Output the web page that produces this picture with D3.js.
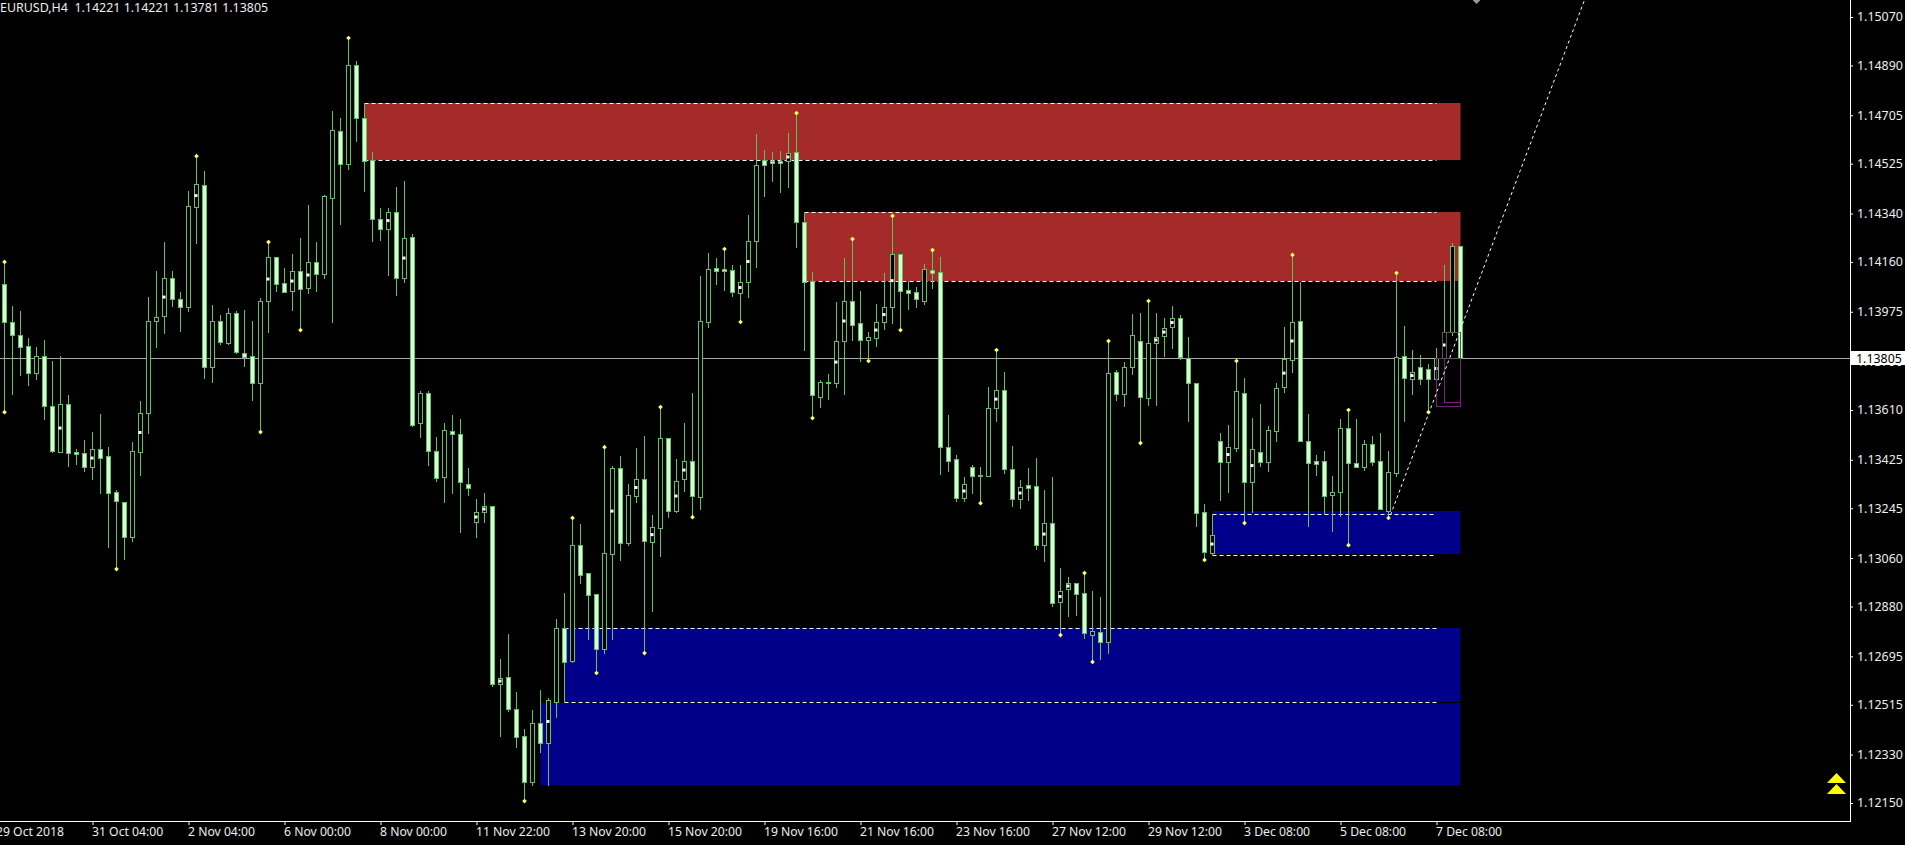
<!DOCTYPE html>
<html><head><meta charset="utf-8">
<script src="https://cdn.jsdelivr.net/npm/d3@7"></script>
<style>html,body{margin:0;padding:0;background:#000;overflow:hidden}svg{display:block}text{font-family:"Noto Sans",sans-serif;white-space:pre}</style>
</head><body><svg id="c" width="1905" height="845"></svg>
<script>
// All prices in points above 1.00000 (14221 = 1.14221)
const opens=[14078,13937,13888,13848,13747,13810,13625,13454,13632,13454,13450,13398,13465,13439,13305,13268,13138,13454,13599,13940,13959,14100,14022,13992,14364,14446,13770,13940,13859,13970,13822,13810,13710,14015,14178,14082,14052,14126,14063,14160,14115,14397,14646,14524,14892,14695,14539,14319,14282,14345,14100,14253,13562,13673,13458,13361,13532,13521,13335,13194,13231,13253,12592,12618,12499,12399,12228,12447,12373,12525,12800,12677,13108,13004,12926,12722,13075,13394,13116,13290,13354,13119,13171,13506,13235,13354,13420,13287,13937,14137,14134,14130,14045,14085,14238,14539,14535,14535,14535,14568,14308,14089,13658,13714,13710,13866,14015,13933,13870,13877,13937,13992,14189,14056,14048,14015,14130,14123,13472,13428,13283,13398,13368,13365,13617,13684,13391,13279,13331,13328,13108,13190,12897,12945,12967,12930,12774,12785,12748,13751,13669,13770,13866,13654,13859,13885,13918,13952,13803,13710,13231,13079,13495,13417,13469,13673,13342,13454,13417,13532,13695,13796,13940,13495,13420,13420,13294,13305,13543,13413,13398,13484,13420,13235,13376,13810,13725,13770,13762,13725,13803,13900,14221];
const highs=[14160,13996,13978,13877,13844,13870,13792,13810,13666,13465,13498,13528,13595,13472,13313,13268,13491,13643,14030,14126,14234,14126,14048,14423,14553,14498,14000,13963,13989,13978,13981,13940,14026,14234,14178,14137,14189,14249,14371,14234,14409,14721,14695,14992,14906,14750,14568,14360,14360,14438,14461,14264,13680,13680,13510,13562,13591,13576,13394,13279,13302,13253,12685,12778,12562,12425,12495,12570,12540,12833,12930,13209,13186,13004,12926,13472,13402,13439,13335,13469,13513,13220,13621,13506,13428,13562,13673,14108,14193,14175,14208,14149,14149,14334,14635,14576,14568,14572,14639,14713,14345,14123,13721,13744,14011,14175,14245,14052,13900,14004,14119,14331,14189,14089,14067,14152,14204,14178,13591,13443,13361,13406,13398,13695,13833,13751,13476,13350,13394,13432,13313,13361,13023,12989,12967,13004,12937,12915,13866,13758,13788,13966,13970,14015,13970,13952,13996,13963,13881,13710,13261,13223,13524,13554,13792,13729,13580,13632,13550,13710,13918,14186,14085,13595,13443,13458,13365,13576,13610,13576,13498,13513,13524,13458,14119,13922,13833,13814,13781,13840,14149,14230,14221];
const lows=[13602,13666,13736,13699,13721,13573,13450,13450,13398,13406,13380,13350,13298,13097,13019,13053,13119,13365,13521,13840,13892,13992,13900,13974,14227,13725,13710,13851,13851,13818,13770,13643,13528,13896,14048,14045,13978,13907,14041,14048,14097,13933,14297,14501,14605,14420,14234,14238,14108,14033,14082,13547,13506,13402,13342,13264,13298,13153,13290,13134,13190,12581,12395,12488,12354,12157,12213,12336,12213,12466,12521,12670,12963,12755,12633,12703,12755,13049,13105,13264,12707,12859,13064,13209,13227,13305,13212,13238,13914,14074,14052,14030,13937,14026,14137,14401,14457,14416,14435,14212,13829,13580,13617,13647,13692,13666,13866,13788,13792,13844,13907,13929,13907,13981,13989,14000,14059,13368,13380,13268,13268,13298,13264,13361,13565,13372,13249,13242,13272,13090,13045,12878,12774,12841,12845,12759,12674,12681,12703,13643,13621,13740,13487,13625,13625,13807,13836,13796,13565,13175,13053,13071,13272,13302,13454,13190,13227,13398,13380,13491,13673,13747,13495,13175,13365,13220,13157,13212,13108,13394,13383,13402,13238,13209,13361,13565,13666,13703,13602,13721,13796,13885,13781];
const closes=[13937,13888,13844,13747,13810,13625,13458,13632,13450,13446,13398,13465,13432,13302,13272,13138,13458,13599,13940,13955,14100,14022,13992,14368,14449,13770,13940,13862,13970,13825,13807,13710,14015,14178,14078,14048,14126,14059,14160,14115,14405,14650,14524,14892,14695,14535,14319,14282,14345,14100,14249,13554,13673,13458,13357,13536,13521,13342,13320,13231,13253,12592,12614,12499,12395,12228,12447,12373,12533,12800,12674,13108,12997,12923,12722,13079,13394,13116,13294,13354,13123,13175,13506,13235,13346,13420,13290,13940,14134,14126,14126,14048,14085,14238,14520,14520,14527,14527,14565,14308,14085,13666,13714,13710,13866,14015,13926,13870,13881,13937,13992,14189,14052,14045,14022,14134,14119,13472,13420,13283,13335,13365,13365,13617,13684,13391,13279,13324,13320,13108,13190,12893,12937,12967,12926,12781,12789,12748,13747,13669,13770,13888,13658,13859,13881,13914,13952,13807,13710,13227,13082,13145,13417,13472,13680,13342,13465,13417,13536,13692,13799,13937,13495,13413,13409,13290,13305,13543,13413,13398,13484,13417,13242,13380,13807,13729,13751,13725,13725,13803,13900,14219,13805];
// Fractal markers, by candle number
const fractalHigh=[0,24,33,43,71,75,82,90,99,106,111,116,124,135,138,143,154,161,168,174];
const fractalLow=[0,14,32,37,65,74,80,86,92,101,108,112,122,132,136,142,150,155,168,173,178];
// Bull candles carrying a small white centre mark
const centred=[7,11,17,20,24,33,36,38,48,50,59,60,62,68,76,79,81,84,85,92,93,98,104,105,109,110,111,120,124,127,130,132,133,144,145,146,151,153,156,160,161,176,179,180];
// Supply / demand zones
const zoneFrom=[45,100,70,67,151];
const zoneTop=[14750,14345,12800,12522,13235];
const zoneBottom=[14539,14089,12525,12217,13075];
const zoneColor=["#a52a2a","#a52a2a","#00008b","#00008b","#00008b"];
const dashLevels=[[45,14750],[45,14539],[100,14345],[100,14089],[70,12800],[70,12525],[151,13223],[151,13071]];
const priceTicks=[15070,14890,14705,14525,14340,14160,13975,13790,13610,13425,13245,13060,12880,12695,12515,12330,12150];
const timeTickAt=[-1,11,23,35,47,59,71,83,95,107,119,131,143,155,167,179];
const timeLabels=["29 Oct 2018","31 Oct 04:00","2 Nov 04:00","6 Nov 00:00","8 Nov 00:00","11 Nov 22:00","13 Nov 20:00","15 Nov 20:00","19 Nov 16:00","21 Nov 16:00","23 Nov 16:00","27 Nov 12:00","29 Nov 12:00","3 Dec 08:00","5 Dec 08:00","7 Dec 08:00"];
const lastPrice=13805;
const trendCandle=[173.25,197.5], trendPrice=[13220,15133];
const boxesPurple=[[179,182,13805,13625],[180,182,13805,13640]];
const boxesGrey=[[179.75,182,13900,13805],[180.25,182,13900,13805]];

const P=v=>1+v/1e5;
const W=1905,H=845,axisX=1850,axisY=821;
const x=d3.scaleLinear().domain([0,182]).range([4.5,1460.5]);
const y=d3.scaleLinear().domain([P(12150),P(15070)]).range([803,17]);
const ry=v=>Math.round(y(P(v)));
const svg=d3.select("#c");
svg.append("rect").attr("width",W).attr("height",H).attr("fill","#000");

// zones
svg.append("g").selectAll("rect").data(zoneFrom).join("rect")
 .attr("x",d=>x(d)).attr("width",d=>x(182)-x(d))
 .attr("y",(d,i)=>ry(zoneTop[i])).attr("height",(d,i)=>ry(zoneBottom[i])-ry(zoneTop[i]))
 .attr("fill",(d,i)=>zoneColor[i]);
// dashed zone edges
svg.append("g").selectAll("line").data(dashLevels).join("line")
 .attr("x1",d=>x(d[0])).attr("x2",x(179))
 .attr("y1",d=>ry(d[1])+.5).attr("y2",d=>ry(d[1])+.5)
 .attr("stroke","#fff").attr("stroke-dasharray","4,3");
// bid line
svg.append("line").attr("x1",0).attr("x2",axisX).attr("y1",ry(lastPrice)+.5).attr("y2",ry(lastPrice)+.5).attr("stroke","#aaa");

// candles
const idx=d3.range(opens.length);
const up="#5ec45e", light="#d6ffd6";
const cg=svg.append("g");
cg.selectAll("line").data(idx).join("line")
 .attr("x1",i=>x(i)).attr("x2",i=>x(i))
 .attr("y1",i=>ry(highs[i])).attr("y2",i=>ry(lows[i]))
 .attr("stroke",up);
cg.selectAll("rect").data(idx).join("rect")
 .attr("x",i=>x(i)-2).attr("width",4)
 .attr("y",i=>ry(Math.max(opens[i],closes[i]))+.5)
 .attr("height",i=>Math.abs(ry(opens[i])-ry(closes[i])))
 .attr("fill",i=>closes[i]>opens[i]?"#000":light)
 .attr("stroke",up);
cg.selectAll("rect.m").data(centred).join("rect").attr("class","m")
 .attr("x",i=>x(i)-2).attr("width",3).attr("height",3)
 .attr("y",i=>y(P((opens[i]+closes[i])/2))-1.5).attr("fill","#fff");

// overlay boxes
const boxG=svg.append("g").attr("fill","none");
boxG.selectAll("rect.p").data(boxesPurple).join("rect").attr("class","p")
 .attr("x",d=>x(d[0])).attr("width",d=>x(d[1])-x(d[0]))
 .attr("y",d=>ry(d[2])+.5).attr("height",d=>ry(d[3])-ry(d[2])).attr("stroke","#7a1f7a");
boxG.selectAll("rect.g").data(boxesGrey).join("rect").attr("class","g")
 .attr("x",d=>x(d[0])).attr("width",d=>x(d[1])-x(d[0]))
 .attr("y",d=>ry(d[2])+.5).attr("height",d=>ry(d[3])-ry(d[2])).attr("stroke","#555");

// trend line
svg.append("line").attr("x1",x(trendCandle[0])).attr("x2",x(trendCandle[1]))
 .attr("y1",y(P(trendPrice[0]))).attr("y2",y(P(trendPrice[1])))
 .attr("stroke","#fff").attr("stroke-dasharray","3,3");

// fractals
const diamond=d3.symbol().type(d3.symbolDiamond2).size(14);
const dot=(list,arr)=>svg.append("g").selectAll("path").data(list).join("path")
 .attr("d",diamond).attr("fill","#ffff66")
 .attr("transform",i=>`translate(${x(i)},${y(P(arr[i]))})`);
dot(fractalHigh,highs);dot(fractalLow,lows);

// top marker
svg.append("path").attr("d",d3.symbol().type(d3.symbolDiamond2).size(40)).attr("fill","#999").attr("transform","translate(1476.5,0)");

// double yellow arrows
svg.append("g").selectAll("path").data([0,1]).join("path")
 .attr("fill","#ffff00")
 .attr("d",d=>{const p=d3.path(),t=773+d*11;p.moveTo(1836.5,t);p.lineTo(1846,t+10);p.lineTo(1827,t+10);p.closePath();return p.toString();});

// axes
const yAxis=d3.axisRight(y).tickValues(priceTicks.map(P)).tickFormat(d3.format(".5f")).tickSize(3).tickPadding(4);
const yg=svg.append("g").attr("transform",`translate(${axisX},0)`).call(yAxis);
yg.select(".domain").remove();
yg.selectAll("line").attr("stroke","#fff");
yg.selectAll("text").attr("fill","#eee").attr("font-size",12.4).attr("font-family",'"Noto Sans",sans-serif');

const xAxis=d3.axisBottom(x).tickValues(timeTickAt).tickFormat(d=>timeLabels[timeTickAt.indexOf(d)]).tickSize(4).tickPadding(0);
const xg=svg.append("g").attr("transform",`translate(0,${axisY})`).call(xAxis);
xg.select(".domain").remove();
xg.selectAll("line").attr("stroke","#fff");
xg.selectAll("text").attr("fill","#eee").attr("font-size",12.2).attr("font-family",'"Noto Sans",sans-serif')
 .attr("text-anchor","start").attr("y",0).attr("dy",0)
 .attr("transform","translate(-1,15)");

svg.append("line").attr("x1",axisX+.5).attr("x2",axisX+.5).attr("y1",0).attr("y2",axisY+1).attr("stroke","#fff");
svg.append("line").attr("x1",0).attr("x2",axisX+1).attr("y1",axisY+.5).attr("y2",axisY+.5).attr("stroke","#fff");

// last-price tag
svg.append("rect").attr("x",1851).attr("y",ry(lastPrice)-7).attr("width",54).attr("height",14).attr("fill","#fff");
svg.append("text").attr("x",1856).attr("y",ry(lastPrice)+4.5).attr("fill","#000").attr("font-size",12.4).text(P(lastPrice).toFixed(5));

// header
svg.append("text").attr("x",0).attr("y",12).attr("fill","#eee").attr("font-size",12.45)
 .text("EURUSD,H4  "+[14221,14221,13781,13805].map(v=>P(v).toFixed(5)).join(" "));
</script></body></html>
